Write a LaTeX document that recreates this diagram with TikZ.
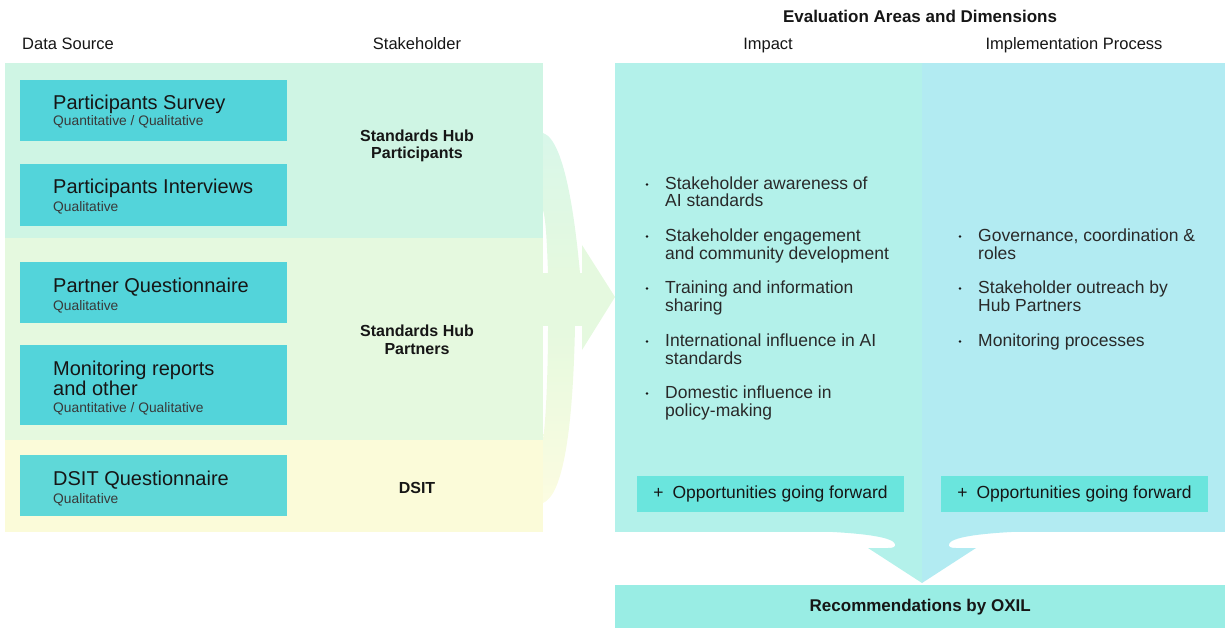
\documentclass[tikz,border=0pt]{standalone}
\usepackage{fontspec}
\setmainfont{Liberation Sans}
\usetikzlibrary{positioning}

\definecolor{ink}{HTML}{161616}
\definecolor{bandmint}{HTML}{CFF5E4}
\definecolor{bandgreen}{HTML}{E5F9DF}
\definecolor{bandyellow}{HTML}{FBFBD9}
\definecolor{srcteal}{HTML}{53D4DA}
\definecolor{srcteallight}{HTML}{5FD8D8}
\definecolor{impactfill}{HTML}{B3F1EA}
\definecolor{processfill}{HTML}{B2EBF2}
\definecolor{oppfill}{HTML}{6AE5DD}
\definecolor{recfill}{HTML}{99EDE4}

\begin{document}
\begin{tikzpicture}[x=1pt,y=-1pt,
  band/.style={anchor=north west,inner sep=0pt,minimum width=538pt},
  srcbox/.style={anchor=north west,inner sep=0pt,minimum width=267pt,fill=srcteal},
  srchead/.style={anchor=base west,inner sep=0pt,align=left,text=ink,
    font=\fontsize{20}{20}\selectfont},
  srcsub/.style={anchor=base west,inner sep=0pt,text=ink!85,
    font=\fontsize{13.8}{15}\selectfont},
  colhead/.style={anchor=base,inner sep=0pt,text=ink,font=\fontsize{16.5}{19}\selectfont},
  stake/.style={inner sep=0pt,align=center,text=ink,
    font=\bfseries\fontsize{16}{17.5}\selectfont},
  panel/.style={anchor=north west,inner sep=0pt,minimum height=469pt},
  item/.style={anchor=base west,inner sep=0pt,align=left,text=ink!92,
    font=\fontsize{17.5}{17.5}\selectfont},
  opp/.style={fill=oppfill,inner sep=0pt,minimum width=267pt,minimum height=36pt,
    text=ink,font=\fontsize{17.5}{19}\selectfont},
]
\useasboundingbox (0,0) rectangle (1225,628);

% stakeholder bands
\node[band,fill=bandmint,minimum height=175pt]   (bandpart)    at (5,63)  {};
\node[band,fill=bandgreen,minimum height=202pt]  (bandpartner) at (5,238) {};
\node[band,fill=bandyellow,minimum height=92pt]  (banddsit)    at (5,440) {};

% funnel into the evaluation panel
\shade[top color=bandmint!80,bottom color=bandgreen]
  (543,133) .. controls (566,140) and (576,230) .. (580,273)
  -- (548,273) .. controls (547,245) and (546,220) .. (543,210) -- cycle;
\shade[top color=bandgreen,bottom color=bandyellow!80]
  (548,326) -- (575,326) .. controls (573,430) and (563,495) .. (543,503)
  -- (543,440) .. controls (546,420) and (548,370) .. (548,326);
\fill[bandgreen] (530,273) rectangle (582,326);
\fill[bandgreen] (582,245) -- (615,297) -- (582,350) -- cycle;

% evaluation panels
\node[panel,fill=impactfill,minimum width=307pt]  (impact)  at (615,63) {};
\node[panel,fill=processfill,minimum width=303pt] (process) at (922,63) {};

% merge arrow down to the recommendations
\fill[impactfill] (810,531) .. controls (870,533) and (893,538) .. (895,544)
  .. controls (896,547) and (893,548) .. (888,548) -- (868,548) -- (922,583)
  -- (922,531) -- cycle;
\fill[processfill] (1034,531) .. controls (974,533) and (951,538) .. (949,544)
  .. controls (948,547) and (951,548) .. (956,548) -- (976,548) -- (922,583)
  -- (922,531) -- cycle;
\node[fill=recfill,anchor=north west,inner sep=0pt,minimum width=610pt,
  minimum height=43pt,text=ink,font=\bfseries\fontsize{17}{19}\selectfont]
  (rec) at (615,585) {Recommendations by OXIL};

% column headings
\node[colhead,anchor=base west] (hsource) at (22,50)  {Data Source};
\node[colhead]                  (hstake)  at (417,50) {Stakeholder};
\node[colhead,font=\bfseries\fontsize{17}{19}\selectfont] (heval) at (920,23)
  {Evaluation Areas and Dimensions};
\node[colhead] (himpact)  at (768,50)  {Impact};
\node[colhead] (hprocess) at (1074,50) {Implementation Process};

% data sources
\node[srcbox,minimum height=61pt] (survey)     at (20,80)  {};
\node[srcbox,minimum height=62pt] (interviews) at (20,164) {};
\node[srcbox,minimum height=61pt] (partnerq)   at (20,262) {};
\node[srcbox,minimum height=80pt] (reports)    at (20,345) {};
\node[srcbox,minimum height=61pt,fill=srcteallight] (dsitq) at (20,455) {};

\node[srchead] (surveyh) at ([xshift=33pt,yshift=-30pt]survey.north west)
  {Participants Survey};
\node[srcsub] at ([yshift=-16pt]surveyh.base west) {Quantitative / Qualitative};
\node[srchead] (interviewsh) at ([xshift=33pt,yshift=-30pt]interviews.north west)
  {Participants Interviews};
\node[srcsub] at ([yshift=-18pt]interviewsh.base west) {Qualitative};
\node[srchead] (partnerqh) at ([xshift=33pt,yshift=-30pt]partnerq.north west)
  {Partner Questionnaire};
\node[srcsub] at ([yshift=-18pt]partnerqh.base west) {Qualitative};
\node[srchead] (reportsh) at ([xshift=33pt,yshift=-30pt]reports.north west)
  {Monitoring reports};
\node[srchead] (reportsh2) at ([yshift=-20pt]reportsh.base west) {and other};
\node[srcsub] at ([yshift=-17pt]reportsh2.base west) {Quantitative / Qualitative};
\node[srchead] (dsitqh) at ([xshift=33pt,yshift=-30pt]dsitq.north west)
  {DSIT Questionnaire};
\node[srcsub] at ([yshift=-18pt]dsitqh.base west) {Qualitative};

% stakeholders
\node[stake] (participants) at (417,146) {Standards Hub\\Participants};
\node[stake] (partners)     at (417,340) {Standards Hub\\Partners};
\node[stake] (dsit)         at (417,488) {DSIT};

% impact dimensions (base = last line)
\node[item] (imp1) at (665,207) {Stakeholder awareness of\\AI standards};
\node[item] (imp2) at (665,259) {Stakeholder engagement\\and community development};
\node[item] (imp3) at (665,311) {Training and information\\sharing};
\node[item] (imp4) at (665,364) {International influence in AI\\standards};
\node[item] (imp5) at (665,416) {Domestic influence in\\policy-making};

% process dimensions
\node[item] (proc1) at (978,259) {Governance, coordination \&\\roles};
\node[item] (proc2) at (978,311) {Stakeholder outreach by\\Hub Partners};
\node[item] (proc3) at (978,346) {Monitoring processes};

\foreach \n/\up in {imp1/22.5,imp2/22.5,imp3/22.5,imp4/22.5,imp5/22.5,
                    proc1/22.5,proc2/22.5,proc3/4.5}
  \fill[ink] ([xshift=-18pt,yshift=\up pt]\n.base west) circle (1.3pt);

% opportunities
\node[opp] (impopp)  at (770.5,494)  {+\hspace{9pt}Opportunities going forward};
\node[opp] (procopp) at (1074.5,494) {+\hspace{9pt}Opportunities going forward};
\end{tikzpicture}
\end{document}
